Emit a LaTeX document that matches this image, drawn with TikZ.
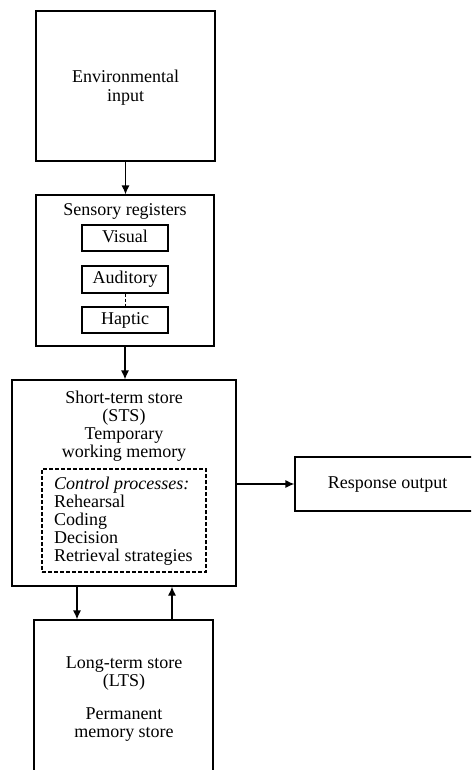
\documentclass[tikz,border=0pt]{standalone}
\usepackage{fontspec}
\setmainfont{Liberation Serif}
\usetikzlibrary{arrows.meta,positioning}

\begin{document}
\begin{tikzpicture}[x=1pt, y=-1pt,
    box/.style={draw, line width=1.2pt, inner sep=0pt},
    reg/.style={box, minimum width=86pt, minimum height=26pt, text height=12pt, text depth=4pt},
    lbl/.style={inner sep=0pt, align=center},
    flow/.style={line width=1.2pt, -{Latex[length=9pt,width=8pt]}},
    font={\fontsize{18}{19}\selectfont}]
    \path[use as bounding box, clip] (0,0) rectangle (471,770);

    \node[box, minimum width=179pt, minimum height=150pt] (env) at (125.5,86) {};
    \node[lbl] (envlbl) at (125.5,88) {Environmental\\input};

    \node[box, minimum width=178pt, minimum height=151pt] (sens) at (125,270.5) {};
    \node[lbl] (senslbl) at (125,211) {Sensory registers};
    \node[reg] (vis) at (125,238) {Visual};
    \node[reg, minimum height=27pt] (aud) at (125,279.5) {Auditory};
    \node[reg] (hap) at (125,320) {Haptic};
    \draw[densely dashed, thin] (aud) -- (hap);

    \node[box, minimum width=224pt, minimum height=206pt] (sts) at (124,483) {};
    \node[lbl, font={\fontsize{18}{18}\selectfont}] (stslbl) at (124,426) {Short-term store\\(STS)\\Temporary\\working memory};
    \node[box, dash pattern=on 4pt off 2pt, minimum width=164pt, minimum height=103pt] (ctrl) at (124,520.5) {};
    \node[lbl, align=left, anchor=west, font={\fontsize{18}{18}\selectfont}] (ctrllbl) at (54,521) {\textit{Control processes:}\\Rehearsal\\Coding\\Decision\\Retrieval strategies};

    \node[box, minimum width=185pt, minimum height=54pt, text height=12pt, text depth=4pt] (resp) at (387.5,484) {Response output};

    \node[box, minimum width=179pt, minimum height=180pt] (lts) at (123.5,710) {};
    \node[lbl, font={\fontsize{18}{18}\selectfont}] (ltslbl) at (124,699) {Long-term store\\(LTS)\\[15pt]Permanent\\memory store};

    \draw[flow] (env) -- (env |- sens.north);
    \draw[flow] (sens) -- (sens.south |- sts.north);
    \draw[flow] (sts.east |- resp) -- (resp);
    \draw[flow] ([xshift=-47pt]sts.south) -- ([xshift=-47pt]sts.south |- lts.north);
    \draw[flow] ([xshift=48pt]sts.south |- lts.north) -- ([xshift=48pt]sts.south);
  \end{tikzpicture}
\end{document}
